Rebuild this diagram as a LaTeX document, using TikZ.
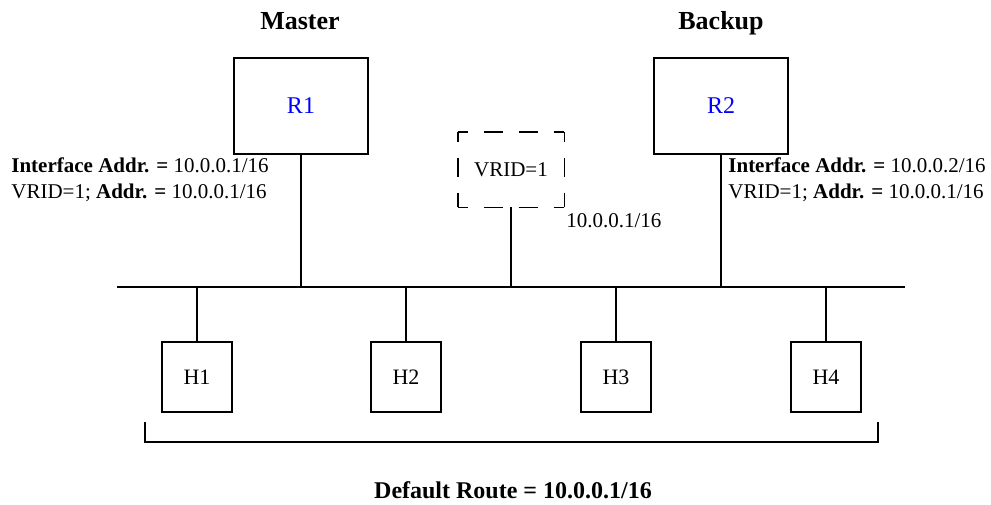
\documentclass[tikz,border=0pt]{standalone}
\usepackage{fontspec}
\setmainfont{Liberation Serif}
\usepackage{tikz}
\usetikzlibrary{positioning,calc}

\tikzset{
    router/.style = {draw, rectangle, line width=0.7pt, minimum width = 67pt,
        minimum height = 48pt, text=blue, font=\fontsize{12}{14}\selectfont},
    host/.style = {draw, rectangle, line width=0.7pt, minimum width = 35pt,
        minimum height = 35pt, font=\fontsize{11}{13}\selectfont},
    title/.style = {anchor=base, font=\fontsize{13}{15}\selectfont\bfseries},
    addr/.style = {align=left, inner sep=0pt, anchor=west, font=\fontsize{10.5}{13}\selectfont},
    vdash/.style = {line width=0.9pt, dash pattern=on 9.5pt off 8pt, dash phase=4.5pt},
    wire/.style = {line width=0.7pt}
}

\begin{document}
\begin{tikzpicture}[x=0.5pt, y=-0.5pt]
    \useasboundingbox (0,0) rectangle (991,504);

    % routers
    \node[title] (master) at (300, 29) {Master};
    \node[title] (backup) at (721, 29) {Backup};
    \node[router] (r1) at (301, 106) {R1};
    \node[router] (r2) at (721, 106) {R2};

    \node[addr] (a1) at (11, 180) {\textbf{Interface Addr. =} 10.0.0.1/16\\VRID=1; \textbf{Addr. =} 10.0.0.1/16};
    \node[addr] (a2) at (728, 180) {\textbf{Interface Addr. =} 10.0.0.2/16\\VRID=1; \textbf{Addr. =} 10.0.0.1/16};

    % virtual router
    \node[minimum width = 53pt, minimum height = 37.5pt, font=\fontsize{10.5}{13}\selectfont]
        (v) at (511, 169.5) {VRID=1};
    \draw[vdash] (v.north west) -- (v.north east);
    \draw[vdash] (v.north east) -- (v.south east);
    \draw[vdash] (v.south west) -- (v.south east);
    \draw[vdash] (v.north west) -- (v.south west);
    \node[addr] (va) at (566, 221) {10.0.0.1/16};

    % bus
    \coordinate (busL) at (117, 287);
    \coordinate (busR) at (905, 287);
    \draw[wire] (busL) -- (busR);
    \draw[wire] (r1) -- (r1 |- busL);
    \draw[wire] (r2) -- (r2 |- busL);
    \draw[wire] (v) -- (v |- busL);

    % hosts
    \node[host] (h1) at (197, 377) {H1};
    \node[host] (h2) at (406, 377) {H2};
    \node[host] (h3) at (616, 377) {H3};
    \node[host] (h4) at (826, 377) {H4};
    \foreach \h in {h1, h2, h3, h4}
        \draw[line width=0.6pt] (\h) -- (\h |- busL);

    \coordinate (brL) at (145, 422);
    \coordinate (brR) at (878, 422);
    \draw[wire] (brL) -- ++(0, 20) -| (brR);
    \node[font=\fontsize{12}{14}\selectfont\bfseries] (route) at (513, 490) {Default Route = 10.0.0.1/16};
\end{tikzpicture}
\end{document}
